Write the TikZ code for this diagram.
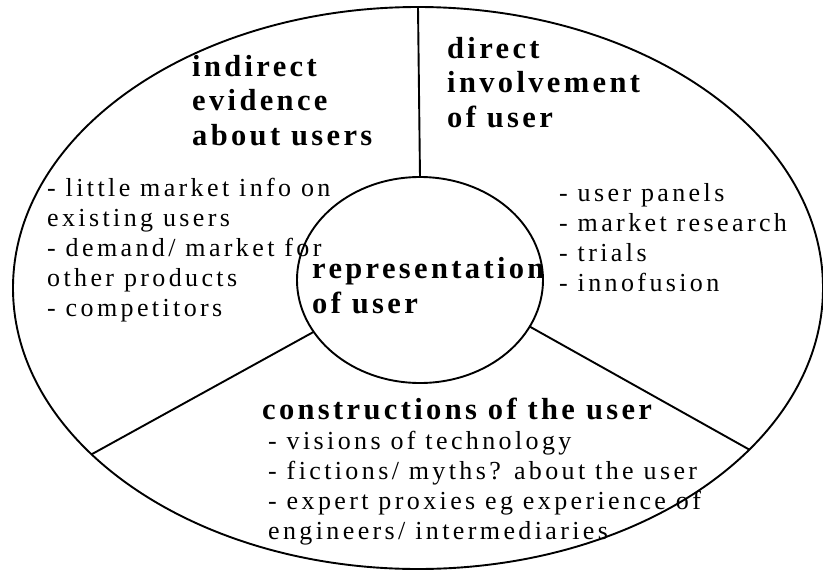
\documentclass[tikz,border=0pt]{standalone}
\usepackage{fontspec}
\setmainfont{Liberation Serif}[LetterSpace=11]
\newfontfamily\listfont{Liberation Serif}[LetterSpace=13]
\usetikzlibrary{shapes.geometric}

\tikzset{
  ring/.style={shape=ellipse, draw, line width=1.9pt, inner sep=0pt, outer sep=0pt},
  headtxt/.style={anchor=base west, inner sep=0pt, align=left, font=\fontsize{30.5}{34.5}\selectfont\bfseries},
  itemtxt/.style={anchor=base west, inner sep=0pt, align=left, font=\fontsize{26}{30}\selectfont\listfont}
}

\begin{document}
\begin{tikzpicture}[x=1pt,y=-1pt]
        \useasboundingbox (0,0) rectangle (823,571);
        \node[ring, minimum width=810pt, minimum height=562pt](outer) at (418,288) {};   % whole
        \node[ring, fill=white, minimum width=246pt, minimum height=206pt](rep) at (420,280) {};  % centre
        \draw[line width=1.9pt] (rep.90) -- (outer.90);    % top
        \draw[line width=1.9pt] (rep.206) -- (outer.207);  % left
        \draw[line width=1.9pt] (rep.337) -- (outer.334);  % right
        % base anchor = baseline of the last line
        \node[headtxt](indirect) at (192,145)  {indirect\\evidence\\about users};
        \node[headtxt](direct) at (447,127)  {direct\\involvement\\of user};
        \node[headtxt](repr) at (312,313)  {representation\\of user};
        \node[headtxt](constr) at (262,419)  {constructions of the user};
        \node[itemtxt](indirectlist) at (47,316)  {- little market info on\\existing users\\- demand/ market for\\other products\\- competitors};
        \node[itemtxt](directlist) at (559,291)  {- user panels\\- market research\\- trials\\- innofusion};
        \node[itemtxt](constrlist) at (268,539)  {- visions of technology\\- fictions/ myths? about the user\\- expert proxies eg experience of\\engineers/ intermediaries};

    \end{tikzpicture}
\end{document}
